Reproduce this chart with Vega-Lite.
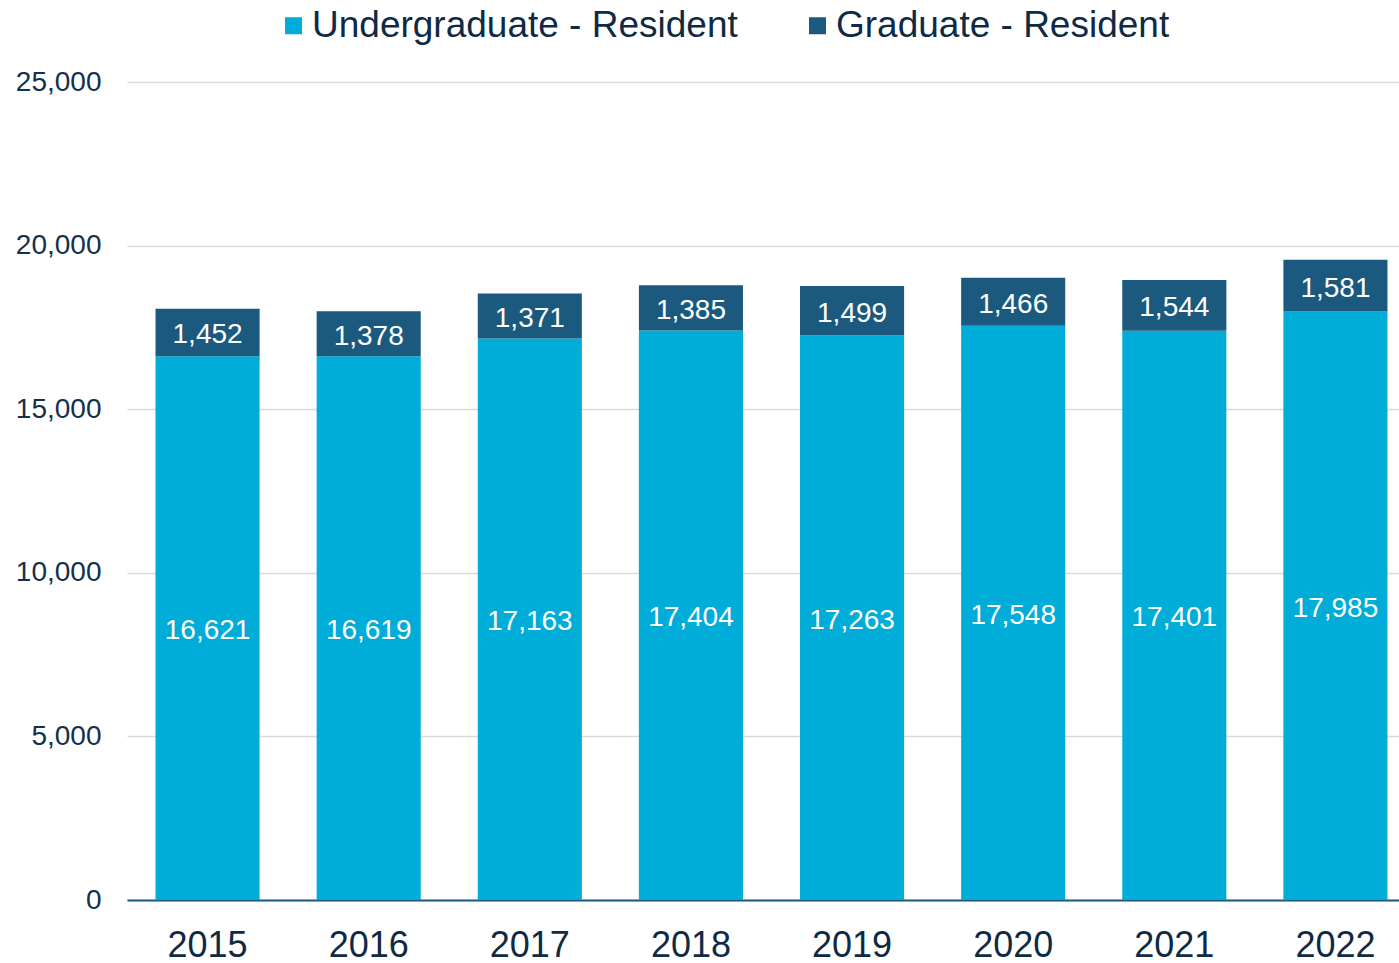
{
  "$schema": "https://vega.github.io/schema/vega-lite/v6.json",
  "autosize": "none",
  "width": 1272,
  "height": 818,
  "padding": {"left": 127, "top": 82, "right": 0, "bottom": 63},
  "background": "white",
  "config": {
    "view": {"stroke": null},
    "font": "Liberation Sans"
  },
  "data": {
    "values": [
      {"year": "2015", "type": "Undergraduate - Resident", "value": 16621},
      {"year": "2015", "type": "Graduate - Resident", "value": 1452},
      {"year": "2016", "type": "Undergraduate - Resident", "value": 16619},
      {"year": "2016", "type": "Graduate - Resident", "value": 1378},
      {"year": "2017", "type": "Undergraduate - Resident", "value": 17163},
      {"year": "2017", "type": "Graduate - Resident", "value": 1371},
      {"year": "2018", "type": "Undergraduate - Resident", "value": 17404},
      {"year": "2018", "type": "Graduate - Resident", "value": 1385},
      {"year": "2019", "type": "Undergraduate - Resident", "value": 17263},
      {"year": "2019", "type": "Graduate - Resident", "value": 1499},
      {"year": "2020", "type": "Undergraduate - Resident", "value": 17548},
      {"year": "2020", "type": "Graduate - Resident", "value": 1466},
      {"year": "2021", "type": "Undergraduate - Resident", "value": 17401},
      {"year": "2021", "type": "Graduate - Resident", "value": 1544},
      {"year": "2022", "type": "Undergraduate - Resident", "value": 17985},
      {"year": "2022", "type": "Graduate - Resident", "value": 1581}
    ]
  },
  "transform": [
    {"stack": "value", "groupby": ["year"], "sort": [{"field": "type", "order": "descending"}], "as": ["y0", "y1"]},
    {"calculate": "(datum.y0 + datum.y1) / 2", "as": "mid"}
  ],
  "encoding": {
    "x": {
      "field": "year",
      "type": "ordinal",
      "scale": {"range": [0, 1289], "paddingInner": 0.354, "paddingOuter": 0.177},
      "axis": {
        "title": null,
        "labelAngle": 0,
        "labelFontSize": 36,
        "labelColor": "#0F2A44",
        "labelPadding": 28,
        "ticks": false,
        "domainColor": "#1B5A7E",
        "domainWidth": 2,
        "grid": false
      }
    }
  },
  "layer": [
    {
      "mark": {"type": "bar"},
      "encoding": {
        "y": {
          "field": "y0",
          "type": "quantitative",
          "scale": {"domain": [0, 25000], "nice": false},
          "axis": {
            "title": null,
            "values": [0, 5000, 10000, 15000, 20000, 25000],
            "format": ",.0f",
            "labelFontSize": 28,
            "labelColor": "#14304A",
            "labelPadding": 26,
            "ticks": false,
            "domain": false,
            "grid": true,
            "gridColor": "#D9D9D9",
            "gridWidth": 1.5
          }
        },
        "y2": {"field": "y1"},
        "color": {
          "field": "type",
          "type": "nominal",
          "scale": {
            "domain": ["Undergraduate - Resident", "Graduate - Resident"],
            "range": ["#00ACD8", "#1B5A7E"]
          },
          "legend": {
            "title": null,
            "orient": "none",
            "direction": "horizontal",
            "legendX": 148,
            "legendY": -75,
            "symbolType": "square",
            "symbolSize": 289,
            "symbolStrokeWidth": 0,
            "labelFontSize": 37,
            "labelColor": "#0F2A44",
            "labelOffset": 0,
            "columnPadding": 61,
            "labelLimit": 600
          }
        }
      }
    },
    {
      "mark": {"type": "text", "color": "white", "fontSize": 28, "baseline": "middle", "align": "center", "dy": 3},
      "encoding": {
        "y": {"field": "mid", "type": "quantitative", "scale": {"domain": [0, 25000], "nice": false}},
        "text": {"field": "value", "type": "quantitative", "format": ","}
      }
    }
  ]
}
